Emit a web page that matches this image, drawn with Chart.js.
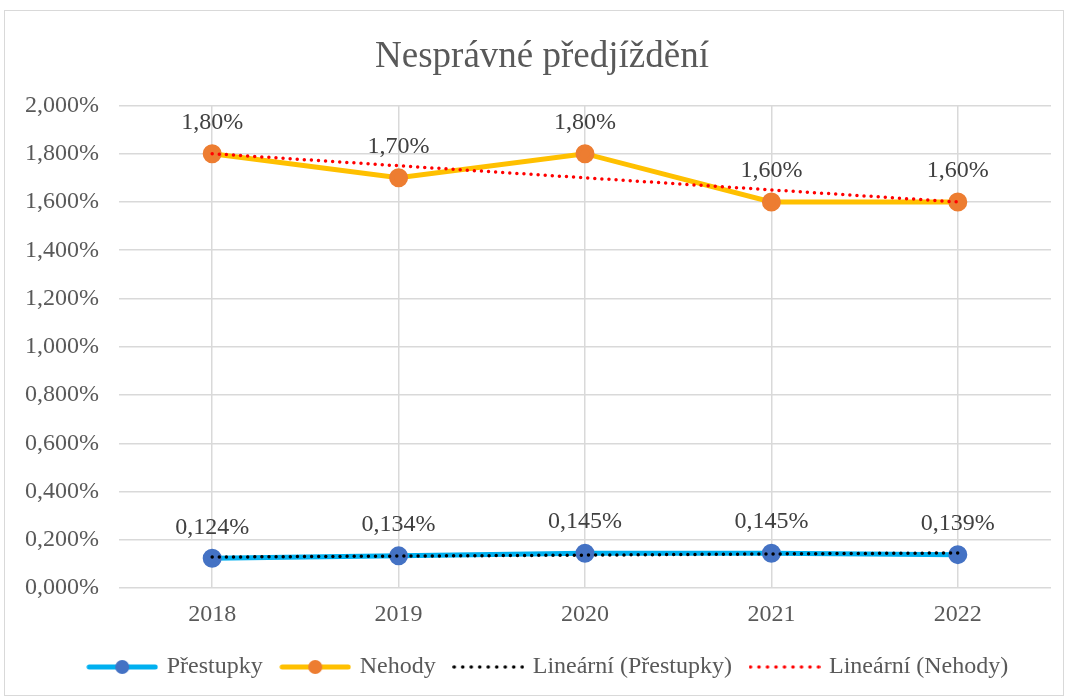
<!DOCTYPE html>
<html>
<head>
<meta charset="utf-8">
<script src="https://cdn.jsdelivr.net/npm/chart.js@4.4.1/dist/chart.umd.min.js"></script>
<style>
  body { margin: 0; background: #fff; }
  #wrap { position: absolute; left: 4px; top: 10px; width: 1058px; height: 684px; border: 1px solid #d9d9d9; }
</style>
</head>
<body>
<div id="wrap"><canvas id="myChart"></canvas></div>
<script>
// data
const years = ['2018', '2019', '2020', '2021', '2022'];
const prestupky = [0.124, 0.134, 0.145, 0.145, 0.139];
const nehody = [1.80, 1.70, 1.80, 1.60, 1.60];
// trendlines
const trendPrestupky = [0.129, 0.133, 0.137, 0.142, 0.146];
const trendNehody = [1.80, 1.75, 1.70, 1.65, 1.60];
const yTicks = [0, 0.2, 0.4, 0.6, 0.8, 1.0, 1.2, 1.4, 1.6, 1.8, 2.0];

const FONT = "'Liberation Serif','Times New Roman',serif";
Chart.defaults.font.family = FONT;
Chart.defaults.color = '#595959';

// legend icons
function lineIcon(lineColor, dotColor) {
    const c = document.createElement('canvas');
    c.width = 72; c.height = 18;
    const g = c.getContext('2d');
    g.strokeStyle = lineColor; g.lineWidth = 5; g.lineCap = 'round';
    g.beginPath(); g.moveTo(3, 9); g.lineTo(69, 9); g.stroke();
    g.fillStyle = dotColor;
    g.beginPath(); g.arc(36, 9, 7, 0, Math.PI * 2); g.fill();
    return c;
}
function dotIcon(color) {
    const c = document.createElement('canvas');
    c.width = 72; c.height = 18;
    const g = c.getContext('2d');
    g.fillStyle = color;
    for (let k = 0; k < 9; k++) {
        g.beginPath(); g.arc(2 + k * 8.5, 9, 1.8, 0, Math.PI * 2); g.fill();
    }
    return c;
}
const icons = [lineIcon('#00B0F0', '#4472C4'), lineIcon('#FFC000', '#ED7D31'), dotIcon('#000000'), dotIcon('#FF0000')];

// data labels above points
const pointLabels = {
    id: 'pointLabels',
    afterDatasetsDraw(chart) {
        const ctx = chart.ctx;
        ctx.save();
        ctx.font = '24px ' + FONT;
        ctx.fillStyle = '#404040';
        ctx.textAlign = 'center';
        ctx.textBaseline = 'middle';
        [0, 1].forEach(di => {
            const ds = chart.data.datasets[di];
            chart.getDatasetMeta(di).data.forEach((pt, i) => {
                const txt = ds.data[i].toFixed(ds.decimals).replace('.', ',') + '%';
                ctx.fillText(txt, pt.x, pt.y - 31);
            });
        });
        ctx.restore();
    }
};

// title and legend sit a little right of the canvas centre, as in Excel
const nudge = {
    id: 'nudge',
    afterLayout(chart) {
        chart.legend.left += 21; chart.legend.right += 21;
        chart.titleBlock.left += 14; chart.titleBlock.right += 14;
    }
};

var ctx = document.getElementById('myChart').getContext('2d');
var myChart = new Chart(ctx, {
    type: 'line',
    data: {
        labels: years,
        datasets: [{
            label: 'Přestupky',
            data: prestupky,
            decimals: 3,
            borderColor: '#00B0F0',
            borderWidth: 5,
            pointBackgroundColor: '#4472C4',
            pointBorderColor: '#4472C4',
            pointRadius: 7,
            order: 2
        }, {
            label: 'Nehody',
            data: nehody,
            decimals: 2,
            borderColor: '#FFC000',
            borderWidth: 5,
            pointBackgroundColor: '#ED7D31',
            pointBorderColor: '#ED7D31',
            pointRadius: 7,
            order: 2
        }, {
            label: 'Lineární (Přestupky)',
            data: trendPrestupky,
            borderColor: '#000000',
            borderWidth: 3.5,
            borderDash: [0, 7.1],
            borderCapStyle: 'round',
            pointRadius: 0,
            order: 1
        }, {
            label: 'Lineární (Nehody)',
            data: trendNehody,
            borderColor: '#FF0000',
            borderWidth: 3.5,
            borderDash: [0, 7.1],
            borderCapStyle: 'round',
            pointRadius: 0,
            order: 1
        }]
    },
    options: {
        responsive: true,
        maintainAspectRatio: false,
        animation: false,
        layout: { padding: { top: 24, left: 0, right: 12, bottom: 6 } },
        plugins: {
            title: {
                display: true,
                text: 'Nesprávné předjíždění',
                color: '#595959',
                font: { size: 37, weight: 'normal' },
                padding: { top: 0, bottom: 26 }
            },
            legend: {
                position: 'bottom',
                labels: {
                    usePointStyle: true,
                    pointStyleWidth: 65,
                    padding: 20,
                    font: { size: 24 },
                    color: '#595959',
                    generateLabels: (chart) => chart.data.datasets.map((ds, i) => ({
                        text: ds.label,
                        pointStyle: icons[i],
                        fillStyle: 'transparent',
                        strokeStyle: 'transparent',
                        lineWidth: 0,
                        fontColor: '#595959',
                        hidden: false,
                        datasetIndex: i
                    }))
                }
            },
            tooltip: { enabled: false }
        },
        scales: {
            x: {
                offset: true,
                afterFit: (s) => { s.height -= 6; },
                grid: { offset: false, color: '#d9d9d9', lineWidth: 1.5, drawTicks: false },
                border: { display: false },
                ticks: { padding: 12, font: { size: 24 }, color: '#595959' }
            },
            y: {
                min: 0,
                max: 2,
                afterBuildTicks: (axis) => { axis.ticks = yTicks.map(v => ({ value: v })); },
                grid: { color: '#d9d9d9', lineWidth: 1.5, drawTicks: false },
                border: { display: false },
                ticks: {
                    padding: 20,
                    font: { size: 24 },
                    color: '#595959',
                    callback: (v) => v.toFixed(3).replace('.', ',') + '%'
                }
            }
        }
    },
    plugins: [pointLabels, nudge]
});
</script>
</body>
</html>
